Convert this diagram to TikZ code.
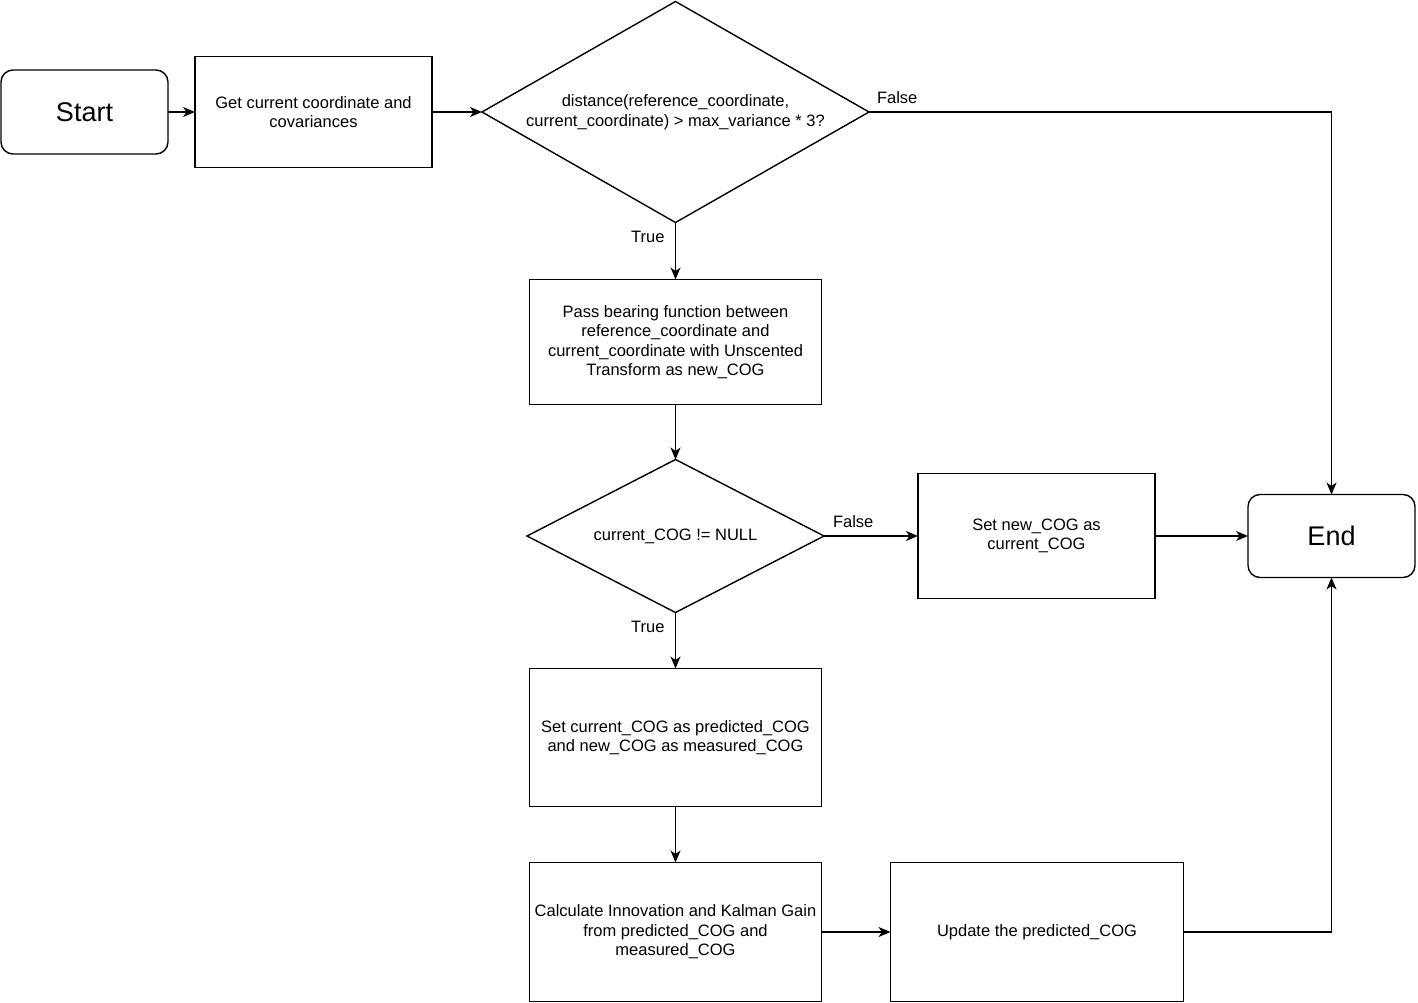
\documentclass[tikz,border=0pt]{standalone}
\usepackage{fontspec}
\setmainfont{Liberation Sans}
\usetikzlibrary{arrows.meta,positioning,shapes.geometric}

\begin{document}
\begin{tikzpicture}[
  x=1pt, y=-1pt, line width=1.4pt,
  every node/.style={font=\fontsize{16.5}{19.5}\selectfont, outer sep=0pt},
  term/.style={draw, rounded corners=12pt, minimum width=167pt, minimum height=84pt, font=\fontsize{27}{32}\selectfont},
  proc/.style={draw, minimum width=237pt, minimum height=111pt, align=center, inner sep=2pt},
  decision/.style={draw, diamond, align=center, inner sep=0pt},
  lbl/.style={inner sep=0pt},
  arrow/.style={-{Stealth[length=12pt, width=10pt, inset=3.5pt]}}
]
\useasboundingbox (0,0) rectangle (1418,1003);
\node[term] (start) at (84.5,112) {Start};
\node[proc, right=27pt of start] (get) {Get current coordinate and\\covariances};
\node[decision, shape aspect=1.75, minimum width=387pt, minimum height=221pt, right=50pt of get] (d1) {distance(reference\_coordinate,\\current\_coordinate) > max\_variance * 3?};
\node[proc, minimum width=292pt, minimum height=125pt, below=57pt of d1] (pass) {Pass bearing function between\\reference\_coordinate and\\current\_coordinate with Unscented\\Transform as new\_COG};
\node[decision, shape aspect=1.94, minimum width=297pt, minimum height=153pt, below=55pt of pass] (d2) {current\_COG != NULL};
\node[proc, minimum height=125pt, right=94pt of d2] (setnew) {Set new\_COG as\\current\_COG};
\node[term, minimum height=83pt, right=93pt of setnew] (end) {End};
\node[proc, minimum width=292pt, minimum height=138pt, below=56pt of d2] (setcur) {Set current\_COG as predicted\_COG\\and new\_COG as measured\_COG};
\node[proc, minimum width=292pt, minimum height=139pt, below=56pt of setcur] (calc) {Calculate Innovation and Kalman Gain\\from predicted\_COG and\\measured\_COG};
\node[proc, minimum width=293pt, minimum height=139pt, right=69pt of calc] (update) {Update the predicted\_COG};
\draw[arrow] (start) -- (get);
\draw[arrow] (get) -- (d1);
\draw[arrow] (d1.east) node[lbl, above right=8pt and 8pt] (lf1) {False} -| (end.north);
\draw[arrow] (d1.south) -- node[lbl, left=11pt, pos=0.26] (lt1) {True} (pass.north);
\draw[arrow] (pass) -- (d2);
\draw[arrow] (d2.east) node[lbl, above right=8pt and 9pt] (lf2) {False} -- (setnew.west);
\draw[arrow] (setnew) -- (end);
\draw[arrow] (d2.south) -- node[lbl, left=11pt, pos=0.25] (lt2) {True} (setcur.north);
\draw[arrow] (setcur) -- (calc);
\draw[arrow] (calc) -- (update);
\draw[arrow] (update.east) -| (end.south);
\end{tikzpicture}
\end{document}
